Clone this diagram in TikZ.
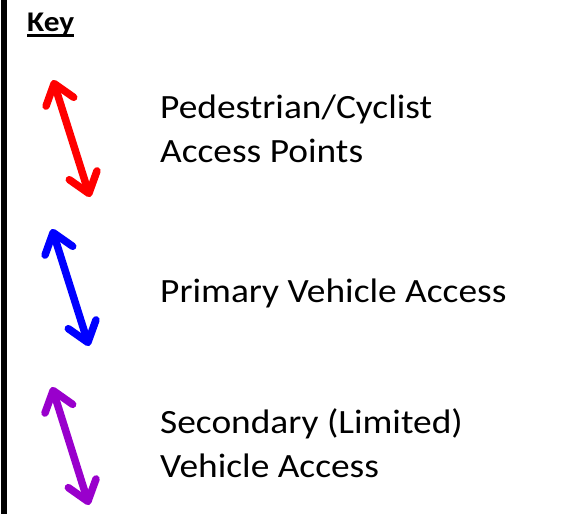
\documentclass[tikz,border=0pt]{standalone}
\usepackage{fontspec}
\setmainfont{Carlito}[FakeStretch=1.1]
\usetikzlibrary{arrows.meta}
\definecolor{accpurple}{RGB}{153,0,204}
\tikzset{
  barb/.tip={Straight Barb[length=19pt,width=29pt,round]},
  keyarrow/.style={line width=7.5pt, barb-barb},
  keytext/.style={anchor=base west, inner sep=0pt, align=left, font=\fontsize{34}{44}\selectfont},
}
\begin{document}
\begin{tikzpicture}[x=1pt, y=-1pt]
  \useasboundingbox (0,0) rectangle (565,514);
  % frame edge and heading
  \draw[line width=6pt] (4,0) -- (4,514);
  \node (key) [anchor=base west, inner sep=0pt, font=\fontsize{28.5}{30}\selectfont\bfseries] at (27,31) {Key};
  \draw[line width=2.5pt] ([yshift=-4.5pt]key.base west) -- ([yshift=-4.5pt]key.base east);
  % arrow ends
  \coordinate (pa) at (53,80); \coordinate (pb) at (90,197);
  \coordinate (va) at (52,229); \coordinate (vb) at (89,346);
  \coordinate (sa) at (52,387); \coordinate (sb) at (89,505);
  \draw[keyarrow, red] (pa) -- (pb);
  \draw[keyarrow, blue] (va) -- (vb);
  \draw[keyarrow, accpurple] (sa) -- (sb);
  % labels (placed by their last baseline)
  \node (ped) [keytext] at (160,162) {Pedestrian/Cyclist\\Access Points};
  \node (pri) [keytext] at (160,302) {Primary Vehicle Access};
  \node (sec) [keytext] at (160,477) {Secondary (Limited)\\Vehicle Access};
\end{tikzpicture}
\end{document}
